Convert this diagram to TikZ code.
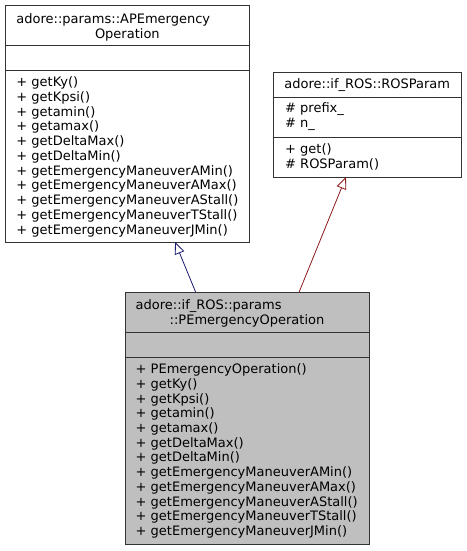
\documentclass[tikz,border=0pt]{standalone}
\usepackage{fontspec}
\setmainfont{DejaVu Sans}
\usetikzlibrary{positioning,arrows.meta}

\definecolor{boxline}{HTML}{333333}
\definecolor{curfill}{HTML}{BFBFBF}
\definecolor{pubedge}{HTML}{191970}
\definecolor{protedge}{HTML}{8B1A1A}

\tikzset{
  part/.style={draw=boxline,line width=1pt,rectangle,inner sep=0pt,outer sep=0pt,fill=white},
  member/.style={anchor=base west,inner sep=0pt},
  inherit/.style={line width=0.8pt,-{Triangle[open,length=12pt,width=10pt]}}
}

\begin{document}
\begin{tikzpicture}[x=1pt,y=-1pt,font=\fontsize{13}{14.7}\selectfont]

  \useasboundingbox (0,0) rectangle (466,551);

  % adore::params::APEmergencyOperation
  \node[part,minimum width=243.3pt,minimum height=40pt,anchor=north west] (apeo-t) at (5.7,5.7) {};
  \node[part,minimum width=243.3pt,minimum height=25pt,below=0pt of apeo-t] (apeo-a) {};
  \node[part,minimum width=243.3pt,minimum height=171.3pt,below=0pt of apeo-a] (apeo-m) {};
  \node[member] (apeo-t1) at ([xshift=10.5pt,yshift=-17.6pt]apeo-t.north west) {adore::params::APEmergency};
  \node[anchor=base,inner sep=0pt] (apeo-t2) at ([yshift=-32.3pt]apeo-t.north) {Operation};
  \foreach \m [count=\i] in {+ getKy(),+ getKpsi(),+ getamin(),+ getamax(),+ getDeltaMax(),
      + getDeltaMin(),+ getEmergencyManeuverAMin(),+ getEmergencyManeuverAMax(),
      + getEmergencyManeuverAStall(),+ getEmergencyManeuverTStall(),+ getEmergencyManeuverJMin()}
    \node[member] (apeo-m\i) at ([xshift=10.5pt,yshift={-16pt-(\i-1)*14.75pt}]apeo-m.north west) {\m};

  % adore::if_ROS::ROSParam
  \node[part,minimum width=187.5pt,minimum height=24.7pt,anchor=north west] (rosp-t) at (273.5,72.3) {};
  \node[part,minimum width=187.5pt,minimum height=40.3pt,below=0pt of rosp-t] (rosp-a) {};
  \node[part,minimum width=187.5pt,minimum height=39.7pt,below=0pt of rosp-a] (rosp-m) {};
  \node[anchor=base,inner sep=0pt] (rosp-t1) at ([yshift=-15.7pt]rosp-t.north) {adore::if\_ROS::ROSParam};
  \foreach \m [count=\i] in {\# prefix\_,\# n\_}
    \node[member] (rosp-a\i) at ([xshift=11.5pt,yshift={-15.7pt-(\i-1)*14.75pt}]rosp-a.north west) {\m};
  \foreach \m [count=\i] in {+ get(),\# ROSParam()}
    \node[member] (rosp-m\i) at ([xshift=11.5pt,yshift={-16pt-(\i-1)*14.75pt}]rosp-m.north west) {\m};

  % adore::if_ROS::params::PEmergencyOperation
  \node[part,fill=curfill,minimum width=244pt,minimum height=40pt,anchor=north west] (pemo-t) at (125,292.3) {};
  \node[part,fill=curfill,minimum width=244pt,minimum height=25.4pt,below=0pt of pemo-t] (pemo-a) {};
  \node[part,fill=curfill,minimum width=244pt,minimum height=186.6pt,below=0pt of pemo-a] (pemo-m) {};
  \node[member] (pemo-t1) at ([xshift=10.5pt,yshift=-17.6pt]pemo-t.north west) {adore::if\_ROS::params};
  \node[anchor=base,inner sep=0pt] (pemo-t2) at ([yshift=-32.3pt]pemo-t.north) {::PEmergencyOperation};
  \foreach \m [count=\i] in {+ PEmergencyOperation(),+ getKy(),+ getKpsi(),+ getamin(),+ getamax(),
      + getDeltaMax(),+ getDeltaMin(),+ getEmergencyManeuverAMin(),+ getEmergencyManeuverAMax(),
      + getEmergencyManeuverAStall(),+ getEmergencyManeuverTStall(),+ getEmergencyManeuverJMin()}
    \node[member] (pemo-m\i) at ([xshift=10.5pt,yshift={-16pt-(\i-1)*14.7pt}]pemo-m.north west) {\m};

  % inheritance
  \draw[inherit,pubedge] ([xshift=-51.3pt]pemo-t.north) -- ([xshift=47.7pt]apeo-m.south);
  \draw[inherit,protedge] ([xshift=52pt]pemo-t.north) -- ([xshift=-21.3pt]rosp-m.south);

\end{tikzpicture}
\end{document}
